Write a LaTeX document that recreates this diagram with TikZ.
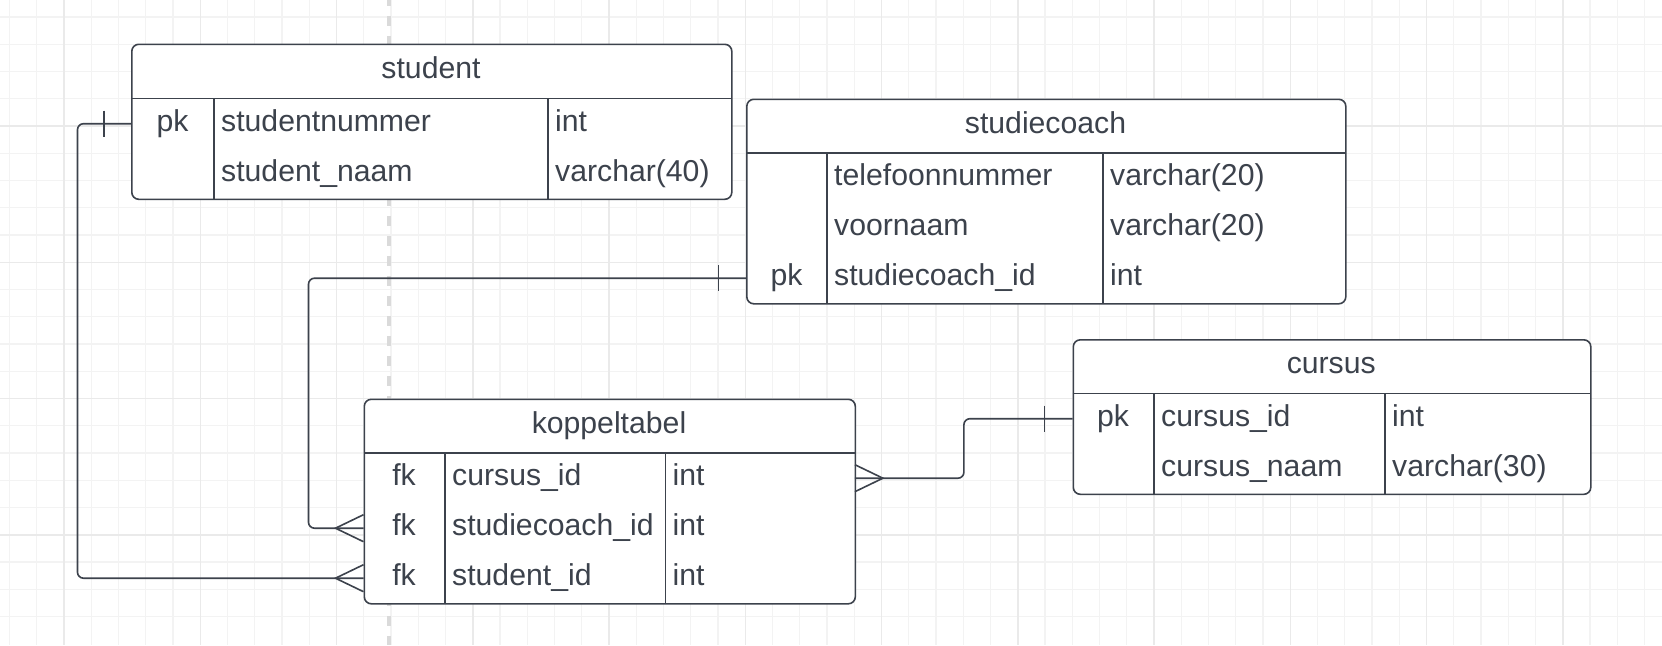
\documentclass[tikz,border=0pt]{standalone}
\usepackage{fontspec}
\setmainfont{Liberation Sans}
\definecolor{ink}{HTML}{3C424C}
\definecolor{gridminor}{HTML}{F3F3F3}
\definecolor{gridmajor}{HTML}{EAEAEA}
\definecolor{pagebreak}{HTML}{DADADA}
\tikzset{
  tbl/.style={draw=ink, line width=1.6pt, fill=white, rounded corners=7pt, inner sep=0pt, anchor=north west},
  rowbox/.style={inner sep=0pt, minimum height=50pt, anchor=north west},
  sep/.style={draw=ink, line width=1.6pt},
  txt/.style={text=ink, inner sep=0pt, anchor=base west, font=\fontsize{30.2}{36}\selectfont},
  ctxt/.style={txt, anchor=base},
  rel/.style={draw=ink, line width=1.6pt, rounded corners=6pt},
  foot/.style={draw=ink, line width=1.6pt},
}
\begin{document}
\begin{tikzpicture}[x=1pt,y=1pt,yscale=-1]
\useasboundingbox (0,0) rectangle (1662,645);
\fill[white] (0,0) rectangle (1662,645);

%Grid
\foreach \i in {0,...,60} \draw[gridminor, line width=1.2pt] ({9.5+27.25*\i},0) -- ({9.5+27.25*\i},645);
\foreach \j in {0,...,23} \draw[gridminor, line width=1.2pt] (0,{-10.25+27.25*\j}) -- (1662,{-10.25+27.25*\j});
\foreach \i in {0,...,11} \draw[gridmajor, line width=1.5pt] ({64+136.25*\i},0) -- ({64+136.25*\i},645);
\foreach \j in {0,...,4} \draw[gridmajor, line width=1.5pt] (0,{-10.25+136.25*\j}) -- (1662,{-10.25+136.25*\j});
%Page break
\draw[pagebreak, line width=3.5pt, dash pattern=on 10pt off 10pt, dash phase=4pt] (389,0) -- (389,645);

%Table: student
\node[tbl, minimum width=600pt, minimum height=155pt] (student) at (131,43.5) {};
\node[rowbox, minimum width=600pt] (st-r1) at (131,98.5) {};
\node[rowbox, minimum width=600pt] (st-r2) at (131,148.5) {};
\draw[sep] (st-r1.north west) -- (st-r1.north east);
\draw[sep] (214,98.5) -- (214,198.5);
\draw[sep] (548,98.5) -- (548,198.5);
\node[ctxt] (st-title) at (431,78) {student};
\node[ctxt] (st-k1) at (172.5,131) {pk};
\node[txt] (st-f1) at (221,131) {studentnummer};
\node[txt] (st-t1) at (555,131) {int};
\node[txt] (st-f2) at (221,181) {student\_naam};
\node[txt] (st-t2) at (555,181) {varchar(40)};

%Table: studiecoach
\node[tbl, minimum width=599pt, minimum height=204.5pt] (studiecoach) at (746,98.5) {};
\node[rowbox, minimum width=599pt] (sc-r1) at (746,153) {};
\node[rowbox, minimum width=599pt] (sc-r2) at (746,203) {};
\node[rowbox, minimum width=599pt] (sc-r3) at (746,253) {};
\draw[sep] (sc-r1.north west) -- (sc-r1.north east);
\draw[sep] (827,153) -- (827,303);
\draw[sep] (1103,153) -- (1103,303);
\node[ctxt] (sc-title) at (1045.5,133) {studiecoach};
\node[txt] (sc-f1) at (834,185.5) {telefoonnummer};
\node[txt] (sc-t1) at (1110,185.5) {varchar(20)};
\node[txt] (sc-f2) at (834,235.5) {voornaam};
\node[txt] (sc-t2) at (1110,235.5) {varchar(20)};
\node[ctxt] (sc-k3) at (786.5,285.5) {pk};
\node[txt] (sc-f3) at (834,285.5) {studiecoach\_id};
\node[txt] (sc-t3) at (1110,285.5) {int};

%Table: cursus
\node[tbl, minimum width=517.5pt, minimum height=154.5pt] (cursus) at (1072.5,339) {};
\node[rowbox, minimum width=517.5pt] (cu-r1) at (1072.5,393.5) {};
\node[rowbox, minimum width=517.5pt] (cu-r2) at (1072.5,443.5) {};
\draw[sep] (cu-r1.north west) -- (cu-r1.north east);
\draw[sep] (1154,393.5) -- (1154,493.5);
\draw[sep] (1385,393.5) -- (1385,493.5);
\node[ctxt] (cu-title) at (1331.25,373.5) {cursus};
\node[ctxt] (cu-k1) at (1113,426) {pk};
\node[txt] (cu-f1) at (1161,426) {cursus\_id};
\node[txt] (cu-t1) at (1392,426) {int};
\node[txt] (cu-f2) at (1161,476) {cursus\_naam};
\node[txt] (cu-t2) at (1392,476) {varchar(30)};

%Table: koppeltabel
\node[tbl, minimum width=491pt, minimum height=204.5pt] (koppeltabel) at (363.5,398.5) {};
\node[rowbox, minimum width=491pt] (kt-r1) at (363.5,453) {};
\node[rowbox, minimum width=491pt] (kt-r2) at (363.5,503) {};
\node[rowbox, minimum width=491pt] (kt-r3) at (363.5,553) {};
\draw[sep] (kt-r1.north west) -- (kt-r1.north east);
\draw[sep] (445,453) -- (445,603);
\draw[sep] (665.5,453) -- (665.5,603);
\node[ctxt] (kt-title) at (609,433) {koppeltabel};
\node[ctxt] (kt-k1) at (404,485.5) {fk};
\node[txt] (kt-f1) at (452,485.5) {cursus\_id};
\node[txt] (kt-t1) at (672.5,485.5) {int};
\node[ctxt] (kt-k2) at (404,535.5) {fk};
\node[txt] (kt-f2) at (452,535.5) {studiecoach\_id};
\node[txt] (kt-t2) at (672.5,535.5) {int};
\node[ctxt] (kt-k3) at (404,585.5) {fk};
\node[txt] (kt-f3) at (452,585.5) {student\_id};
\node[txt] (kt-t3) at (672.5,585.5) {int};

%Relations
\draw[rel] (st-r1.west) -| ([xshift=-286pt]kt-r3.west) -- (kt-r3.west);
\draw[foot] ([xshift=-27pt,yshift=-13pt]st-r1.west) -- ([xshift=-27pt,yshift=13pt]st-r1.west);
\draw[foot] ([yshift=13.5pt]kt-r3.west) -- ([xshift=-28pt]kt-r3.west) -- ([yshift=-13.5pt]kt-r3.west);

\draw[rel] (sc-r3.west) -| ([xshift=-55pt]kt-r2.west) -- (kt-r2.west);
\draw[foot] ([xshift=-27.5pt,yshift=-13pt]sc-r3.west) -- ([xshift=-27.5pt,yshift=13pt]sc-r3.west);
\draw[foot] ([yshift=13.5pt]kt-r2.west) -- ([xshift=-28pt]kt-r2.west) -- ([yshift=-13.5pt]kt-r2.west);

\draw[rel] (kt-r1.east) -- ([xshift=109pt]kt-r1.east) |- (cu-r1.west);
\draw[foot] ([xshift=-28pt,yshift=-13pt]cu-r1.west) -- ([xshift=-28pt,yshift=13pt]cu-r1.west);
\draw[foot] ([yshift=13.5pt]kt-r1.east) -- ([xshift=28pt]kt-r1.east) -- ([yshift=-13.5pt]kt-r1.east);
\end{tikzpicture}
\end{document}
